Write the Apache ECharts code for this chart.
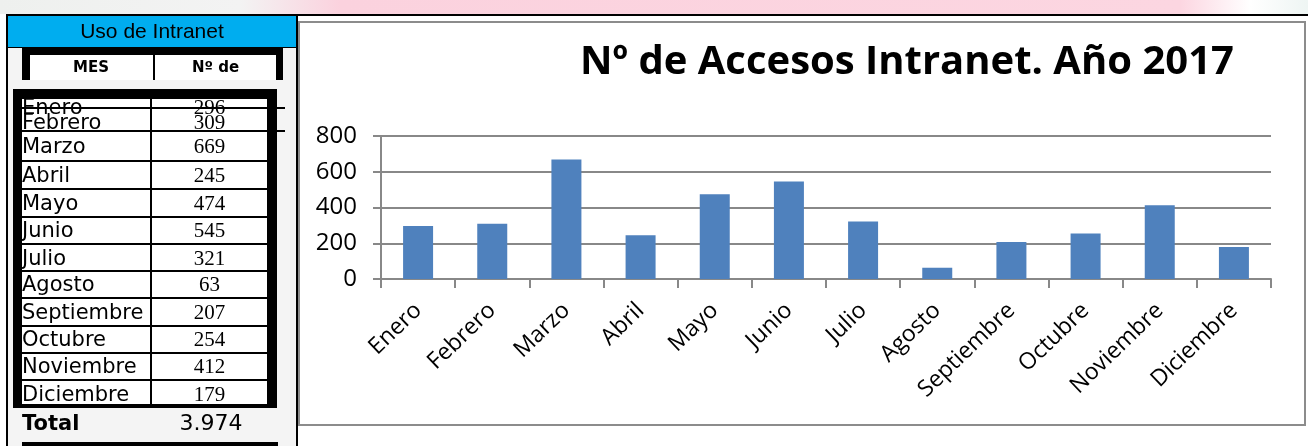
<!DOCTYPE html>
<html>
<head>
<meta charset="utf-8">
<title>Uso de Intranet 2017</title>
<script src="https://cdn.jsdelivr.net/npm/echarts@6/dist/echarts.min.js"></script>
<style>
  html, body { margin: 0; padding: 0; background: #fff; }
  #wrap { position: relative; width: 1308px; height: 446px; overflow: hidden; }
  #chart { position: absolute; left: 0; top: 0; width: 1308px; height: 446px; }
  .abs { position: absolute; box-sizing: border-box; }
  .txt { white-space: nowrap; color: #000; }
</style>
</head>
<body>
<div id="wrap">
  <div id="chart"></div>
  <div id="table"></div>
</div>
<script>
/* -------------------------------------------------------------------------- */
/*                       Nº de Accesos Intranet. Año 2017                     */
/* -------------------------------------------------------------------------- */

const months = [
  'Enero', 'Febrero', 'Marzo', 'Abril', 'Mayo', 'Junio',
  'Julio', 'Agosto', 'Septiembre', 'Octubre', 'Noviembre', 'Diciembre'
];

const accesses = [296, 309, 669, 245, 474, 545, 321, 63, 207, 254, 412, 179];

const yTicks = [0, 200, 400, 600, 800];

const chartTitle = 'Nº de Accesos Intranet. Año 2017';
const tableTitle = 'Uso de Intranet';
const tableHeads = ['MES', 'Nº de'];

// ---- left table (plain divs) ----
const $table = document.getElementById('table');

const box = (x, y, w, h, css = '') => {
  const d = document.createElement('div');
  d.className = 'abs';
  d.style.cssText = `left:${x}px;top:${y}px;width:${w}px;height:${h}px;${css}`;
  $table.appendChild(d);
  return d;
};

const text = (str, x, y, w, h, css) => {
  const d = box(x, y, w, h, `line-height:${h}px;${css}`);
  d.classList.add('txt');
  d.textContent = str;
  return d;
};

// top strip + frame lines
box(0, 0, 1308, 14,
  'background:linear-gradient(to right,#eef0ee 0,#f3f3f3 240px,#fbd2de 340px,#fcd6e1 1180px,#fff 1250px,#eef5f3 1308px)');
box(6, 14, 1302, 2, 'background:#000');
box(6, 14, 2, 432, 'background:#000');
box(296, 14, 2, 432, 'background:#000');
box(8, 48, 288, 398, 'background:#f4f4f4');

// cyan header
box(8, 16, 288, 31, 'background:#00adef');
box(8, 47, 288, 1, 'background:#000');
text(tableTitle, 8, 16, 288, 30,
  'text-align:center;font-family:"Liberation Sans";font-size:21px;');

// column heads
box(22, 47, 261, 8, 'background:#000');
box(22, 47, 8, 33, 'background:#000');
box(276, 47, 7, 33, 'background:#000');
box(30, 55, 246, 25, 'background:#fff');
box(153, 55, 2, 25, 'background:#000');
text(tableHeads[0], 30, 55, 122, 25,
  'text-align:center;font-family:"DejaVu Sans";font-weight:bold;font-size:15px;');
text(tableHeads[1], 155, 55, 121, 25,
  'text-align:center;font-family:"DejaVu Sans";font-weight:bold;font-size:15px;');

// body frame
box(13, 89, 264, 319, 'background:#000');
box(22, 99, 245, 305, 'background:#fff');

const rowCenters = [107, 122, 146, 175, 203, 230, 258, 284, 312, 339, 366, 394];
const rowLines = [161, 189, 217, 244, 271, 298, 326, 353, 380];

months.forEach((m, i) => {
  const cy = rowCenters[i];
  text(m, 22, cy - 15, 130, 30,
    'font-family:"DejaVu Sans";font-size:21px;');
  text(String(accesses[i]), 152, cy - 15, 115, 30,
    'text-align:center;font-family:"Liberation Serif";font-size:21px;');
});
rowLines.forEach(y => box(22, y - 1, 245, 2, 'background:#000'));
box(22, 107, 263, 2, 'background:#000');
box(22, 130, 263, 2, 'background:#000');
box(150, 99, 2, 305, 'background:#000');

// re-draw frame edges over the row text, like the source
box(13, 89, 264, 10, 'background:#000');
box(13, 89, 9, 319, 'background:#000');
box(267, 89, 10, 319, 'background:#000');
box(13, 404, 264, 4, 'background:#000');

// total
const total = accesses.reduce((a, b) => a + b, 0);
const totalLabel = String(total).replace(/\B(?=(\d{3})+(?!\d))/g, '.');
text('Total', 22, 408, 130, 30,
  'font-family:"DejaVu Sans";font-weight:bold;font-size:21px;');
text(totalLabel, 152, 408, 118, 30,
  'text-align:center;font-family:"DejaVu Sans";font-size:22px;');
box(22, 442, 256, 4, 'background:#000');

// ---- chart ----
const chart = echarts.init(document.getElementById('chart'));
const gray = '#888888';

chart.setOption({
  animation: false,
  title: {
    text: chartTitle,
    left: 580,
    top: 43,
    padding: 0,
    textStyle: {
      fontFamily: 'Open Sans',
      fontWeight: 'bold',
      fontSize: 40,
      color: '#000'
    }
  },
  graphic: [
    {
      type: 'rect',
      shape: { x: 299, y: 22, width: 1006, height: 403 },
      style: { fill: '#fff', stroke: '#8c8c8c', lineWidth: 2 },
      z: -10
    }
  ],
  grid: {
    left: 381,
    right: 37,
    top: 136,
    bottom: 167,
    containLabel: false
  },
  xAxis: {
    type: 'category',
    data: months,
    axisLine: { lineStyle: { color: gray, width: 2 } },
    axisTick: {
      show: true,
      length: 9,
      alignWithLabel: false,
      lineStyle: { color: gray, width: 2 }
    },
    axisLabel: {
      interval: 0,
      rotate: 44,
      margin: 28,
      fontFamily: 'Open Sans',
      fontSize: 23,
      color: '#000'
    }
  },
  yAxis: {
    type: 'value',
    min: yTicks[0],
    max: yTicks[yTicks.length - 1],
    interval: yTicks[1] - yTicks[0],
    axisLine: { show: true, lineStyle: { color: gray, width: 2 } },
    axisTick: { show: true, length: 8, lineStyle: { color: gray, width: 2 } },
    splitLine: { lineStyle: { color: gray, width: 2 } },
    axisLabel: {
      margin: 24,
      fontFamily: 'Open Sans',
      fontSize: 24,
      color: '#000'
    }
  },
  series: [
    {
      name: 'Accesos',
      type: 'bar',
      data: accesses,
      barWidth: 30,
      itemStyle: { color: '#4f81bd' }
    }
  ]
});
</script>
</body>
</html>
